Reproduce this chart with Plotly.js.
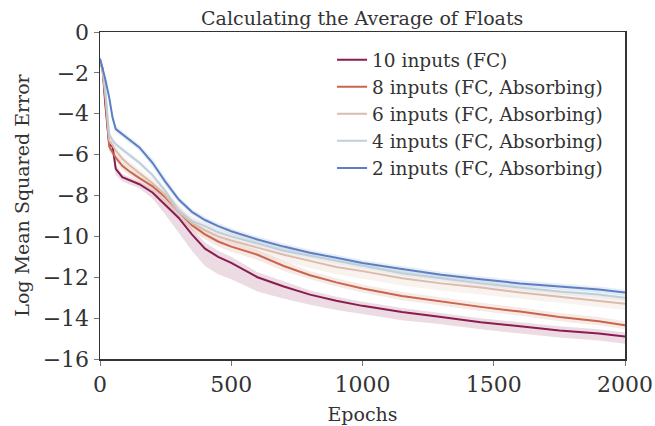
<!DOCTYPE html>
<html>
<head>
<meta charset="utf-8">
<script src="https://cdn.plot.ly/plotly-3.0.1.min.js"></script>
<style>
  html, body { margin: 0; padding: 0; background: #fff; }
  #chart { width: 655px; height: 426px; }
</style>
</head>
<body>
<div id="chart"></div>
<script>
// ---- data ----
const epochs = [0, 10, 20, 35, 48, 60, 85, 110, 150, 200, 250, 300, 350, 400, 450, 500, 600, 700, 800, 900, 1000, 1150, 1300, 1450, 1600, 1750, 1900, 2000];

const seriesNames = ["10 inputs (FC)", "8 inputs (FC, Absorbing)", "6 inputs (FC, Absorbing)", "4 inputs (FC, Absorbing)", "2 inputs (FC, Absorbing)"];

const inputs10 = [-1.4, -1.8, -3.5, -5.5, -5.6, -6.7, -7.1, -7.25, -7.45, -7.85, -8.45, -9.1, -9.9, -10.6, -11.0, -11.3, -12.0, -12.45, -12.85, -13.15, -13.4, -13.7, -13.95, -14.2, -14.4, -14.6, -14.75, -14.9];
const inputs8 = [-1.4, -1.9, -3.2, -5.6, -5.9, -6.15, -6.55, -6.8, -7.15, -7.55, -8.1, -8.8, -9.45, -9.9, -10.25, -10.5, -10.9, -11.45, -11.9, -12.25, -12.55, -12.92, -13.2, -13.45, -13.68, -13.95, -14.15, -14.35];
const inputs6 = [-1.4, -1.9, -3.0, -5.3, -5.55, -5.8, -6.2, -6.5, -6.9, -7.4, -8.0, -8.8, -9.35, -9.7, -10.0, -10.2, -10.55, -10.9, -11.2, -11.5, -11.7, -12.05, -12.3, -12.5, -12.75, -12.95, -13.15, -13.3];
const inputs4 = [-1.4, -1.8, -2.8, -5.0, -5.3, -5.5, -5.75, -6.0, -6.4, -7.0, -7.8, -8.75, -9.25, -9.5, -9.8, -10.0, -10.35, -10.7, -10.95, -11.2, -11.45, -11.8, -12.05, -12.3, -12.5, -12.7, -12.85, -13.0];
const inputs2 = [-1.3, -1.8, -2.3, -3.2, -4.2, -4.75, -5.0, -5.25, -5.65, -6.4, -7.35, -8.2, -8.8, -9.2, -9.5, -9.75, -10.15, -10.5, -10.8, -11.05, -11.3, -11.6, -11.88, -12.1, -12.3, -12.45, -12.6, -12.75];

// shaded spread around each curve (below / above the mean)
const spread10Below = [0.1, 0.2, 0.3, 0.3, 0.3, 0.3, 0.2, 0.2, 0.2, 0.3, 0.5, 0.7, 0.8, 0.85, 0.85, 0.8, 0.7, 0.6, 0.5, 0.45, 0.4, 0.4, 0.35, 0.35, 0.35, 0.35, 0.35, 0.35];
const spread10Above = [0.1, 0.2, 0.3, 0.2, 0.2, 0.2, 0.15, 0.15, 0.15, 0.2, 0.25, 0.3, 0.3, 0.3, 0.3, 0.3, 0.25, 0.25, 0.2, 0.2, 0.2, 0.2, 0.2, 0.2, 0.2, 0.2, 0.2, 0.2];
const spread8 = [0.1, 0.15, 0.2, 0.2, 0.2, 0.2, 0.2, 0.2, 0.2, 0.2, 0.25, 0.25, 0.25, 0.25, 0.25, 0.25, 0.25, 0.25, 0.2, 0.2, 0.2, 0.2, 0.2, 0.2, 0.2, 0.2, 0.2, 0.2];
const spread6 = [0.1, 0.15, 0.2, 0.2, 0.2, 0.2, 0.2, 0.2, 0.2, 0.25, 0.3, 0.35, 0.35, 0.35, 0.35, 0.35, 0.35, 0.35, 0.35, 0.35, 0.35, 0.35, 0.35, 0.35, 0.3, 0.3, 0.3, 0.3];
const spread4 = [0.1, 0.15, 0.15, 0.15, 0.15, 0.15, 0.15, 0.15, 0.15, 0.15, 0.15, 0.15, 0.15, 0.15, 0.15, 0.15, 0.15, 0.15, 0.15, 0.15, 0.15, 0.15, 0.15, 0.15, 0.15, 0.15, 0.15, 0.15];
const spread2 = [0.1, 0.15, 0.15, 0.15, 0.15, 0.15, 0.15, 0.15, 0.15, 0.2, 0.2, 0.15, 0.15, 0.15, 0.15, 0.15, 0.15, 0.15, 0.15, 0.15, 0.15, 0.15, 0.15, 0.15, 0.15, 0.15, 0.15, 0.15];

const xTicks = [0, 500, 1000, 1500, 2000];
const yTicks = [0, -2, -4, -6, -8, -10, -12, -14, -16];

// ---- styling ----
const lineColors = ["#8a1c4f", "#c8664b", "#dcbaac", "#bccfda", "#5b7fc4"];
const bandColors = ["rgba(138,28,79,0.16)", "rgba(200,102,75,0.14)", "rgba(220,186,172,0.18)", "rgba(188,207,218,0.18)", "rgba(91,127,196,0.14)"];
const FONT = "DejaVu Serif, Liberation Serif, serif";

const means = [inputs10, inputs8, inputs6, inputs4, inputs2];
const below = [spread10Below, spread8, spread6, spread4, spread2];
const above = [spread10Above, spread8, spread6, spread4, spread2];

const traces = [];
means.forEach((m, i) => {
  const up = m.map((v, k) => v + above[i][k]);
  const lo = m.map((v, k) => v - below[i][k]);
  traces.push({
    x: epochs.concat(epochs.slice().reverse()),
    y: up.concat(lo.slice().reverse()),
    type: "scatter", mode: "lines",
    fill: "toself", fillcolor: bandColors[i],
    line: { width: 0, color: "rgba(0,0,0,0)" },
    hoverinfo: "skip", showlegend: false
  });
});
means.forEach((m, i) => {
  traces.push({
    x: epochs, y: m,
    type: "scatter", mode: "lines",
    name: seriesNames[i],
    line: { color: lineColors[i], width: 2 }
  });
});

const layout = {
  width: 655, height: 426,
  margin: { l: 100, r: 30, t: 32, b: 67 },
  paper_bgcolor: "#fff", plot_bgcolor: "#fff",
  font: { family: FONT, color: "#333" },
  title: {
    text: "Calculating the Average of Floats",
    font: { family: FONT, size: 19, color: "#333" },
    x: 0.553, xanchor: "center", y: 0.957, yanchor: "middle"
  },
  xaxis: {
    range: [0, 2000], tickvals: xTicks, ticktext: xTicks.map(String),
    showgrid: false, zeroline: false,
    showline: true, linecolor: "#333", linewidth: 1.5, mirror: true,
    ticks: "outside", ticklen: 5, tickwidth: 1, tickcolor: "#777",
    tickfont: { family: FONT, size: 22, color: "#333" },
    title: { text: "Epochs", font: { family: FONT, size: 19, color: "#333" }, standoff: 12 }
  },
  yaxis: {
    range: [-16, 0], tickvals: yTicks, ticktext: yTicks.map(v => v < 0 ? "\u2212" + Math.abs(v) : String(v)),
    showgrid: false, zeroline: false,
    showline: true, linecolor: "#333", linewidth: 1.5, mirror: true,
    ticks: "outside", ticklen: 5, tickwidth: 1, tickcolor: "#777",
    tickfont: { family: FONT, size: 22, color: "#333" },
    title: { text: "Log Mean Squared Error", font: { family: FONT, size: 19, color: "#333" }, standoff: 8 }
  },
  legend: {
    x: 0.442, xanchor: "left", y: 0.972, yanchor: "top",
    bgcolor: "rgba(255,255,255,0)", borderwidth: 0,
    font: { family: FONT, size: 18.5, color: "#333" }
  },
  showlegend: true
};

Plotly.newPlot("chart", traces, layout, { displayModeBar: false, staticPlot: true });
</script>
</body>
</html>
